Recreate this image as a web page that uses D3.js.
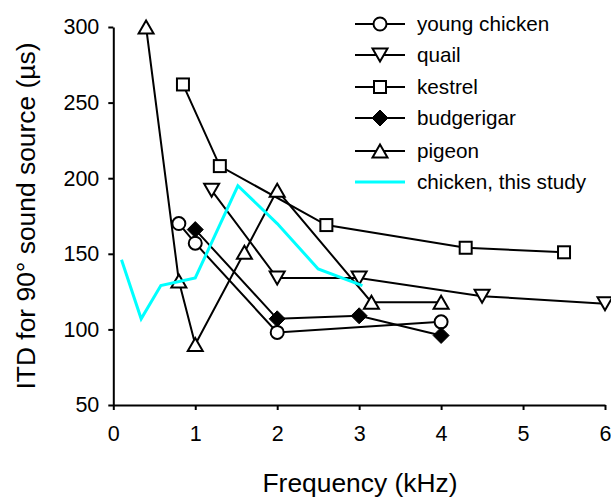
<!DOCTYPE html>
<html>
<head>
<meta charset="utf-8">
<script src="https://cdn.jsdelivr.net/npm/d3@7"></script>
<style>
  html, body { margin: 0; padding: 0; background: #fff; }
  svg { display: block; font-family: Arial, "Liberation Sans", sans-serif; }
</style>
</head>
<body>
<svg id="chart" width="611" height="500"></svg>
<script>
// Interaural time difference (ITD) for a 90° source, by frequency, per species
const youngChickenFreq = [0.8, 1.0, 2.0, 4.0];
const youngChickenITD  = [170, 157, 98, 105];

const quailFreq = [1.2, 2.0, 3.0, 4.5, 6.0];
const quailITD  = [192, 134, 134, 122, 117];

const kestrelFreq = [0.85, 1.3, 2.6, 4.3, 5.5];
const kestrelITD  = [262, 208, 169, 154, 151];

const budgerigarFreq = [1.0, 2.0, 3.0, 4.0];
const budgerigarITD  = [166, 107, 109, 96];

const pigeonFreq = [0.4, 0.8, 1.0, 1.6, 2.0, 3.15, 4.0];
const pigeonITD  = [300, 132, 90, 151, 192, 118, 118];

const thisStudyFreq = [0.1, 0.34, 0.58, 1.0, 1.52, 2.0, 2.5, 3.04];
const thisStudyITD  = [146, 107, 129, 134, 195, 170, 140, 129];

const xTicks = [0, 1, 2, 3, 4, 5, 6];
const yTicks = [50, 100, 150, 200, 250, 300];

const seriesNames = ["young chicken", "quail", "kestrel", "budgerigar", "pigeon", "chicken, this study"];
const seriesMarkers = ["circle", "triangleDown", "square", "diamond", "triangleUp", "none"];

const series = [
  { name: seriesNames[0], marker: seriesMarkers[0], freq: youngChickenFreq, itd: youngChickenITD },
  { name: seriesNames[1], marker: seriesMarkers[1], freq: quailFreq, itd: quailITD },
  { name: seriesNames[2], marker: seriesMarkers[2], freq: kestrelFreq, itd: kestrelITD },
  { name: seriesNames[3], marker: seriesMarkers[3], freq: budgerigarFreq, itd: budgerigarITD },
  { name: seriesNames[4], marker: seriesMarkers[4], freq: pigeonFreq, itd: pigeonITD },
  { name: seriesNames[5], marker: seriesMarkers[5], freq: thisStudyFreq, itd: thisStudyITD }
];

const svg = d3.select("#chart");
const x = d3.scaleLinear().domain([0, 6]).range([113.3, 605]);
const y = d3.scaleLinear().domain([50, 300]).range([405, 27]);

const CYAN = "#00ffff";
const tickFont = 21.5;

// Axes
const xAxis = svg.append("g")
  .attr("transform", `translate(0,${y(50)})`)
  .call(d3.axisBottom(x).tickValues(xTicks).tickFormat(d3.format("d")).tickSize(5).tickSizeOuter(0).tickPadding(16));
const yAxis = svg.append("g")
  .attr("transform", `translate(${x(0)},0)`)
  .call(d3.axisLeft(y).tickValues(yTicks).tickFormat(d3.format("d")).tickSize(5).tickSizeOuter(0).tickPadding(9));
[xAxis, yAxis].forEach(g => {
  g.selectAll("path, line").attr("stroke", "#000").attr("stroke-width", 2);
  g.selectAll("text").attr("fill", "#000").style("font-size", tickFont + "px")
    .style("font-family", "Arial, 'Liberation Sans', sans-serif");
});

// Axis titles
svg.append("text")
  .attr("x", 360).attr("y", 492)
  .attr("text-anchor", "middle")
  .style("font-size", "26.4px")
  .text("Frequency (kHz)");
svg.append("text")
  .attr("transform", `translate(35,${(y(50) + y(300)) / 2}) rotate(-90)`)
  .attr("text-anchor", "middle")
  .style("font-size", "26.4px")
  .text("ITD for 90° sound source (µs)");

// Marker shapes
function drawMarker(g, type, cx, cy) {
  const s = 6.5;
  if (type === "circle") {
    g.append("circle").attr("cx", cx).attr("cy", cy).attr("r", s)
      .attr("fill", "#fff").attr("stroke", "#000").attr("stroke-width", 2);
  } else if (type === "square") {
    g.append("rect").attr("x", cx - 6).attr("y", cy - 6).attr("width", 12).attr("height", 12)
      .attr("fill", "#fff").attr("stroke", "#000").attr("stroke-width", 2);
  } else if (type === "diamond") {
    const r = 8;
    g.append("path").attr("d", `M${cx},${cy - r}L${cx + r},${cy}L${cx},${cy + r}L${cx - r},${cy}Z`)
      .attr("fill", "#000").attr("stroke", "#000").attr("stroke-width", 1);
  } else if (type === "triangleUp") {
    const w = 7.5, h = 6.5;
    g.append("path").attr("d", `M${cx},${cy - h}L${cx + w},${cy + h}L${cx - w},${cy + h}Z`)
      .attr("fill", "#fff").attr("stroke", "#000").attr("stroke-width", 2).attr("stroke-linejoin", "miter");
  } else if (type === "triangleDown") {
    const w = 7.5, h = 6.5;
    g.append("path").attr("d", `M${cx},${cy + h}L${cx + w},${cy - h}L${cx - w},${cy - h}Z`)
      .attr("fill", "#fff").attr("stroke", "#000").attr("stroke-width", 2).attr("stroke-linejoin", "miter");
  }
}

const line = d3.line().x(d => x(d[0])).y(d => y(d[1]));
const plot = svg.append("g");

series.forEach(s => {
  const pts = s.freq.map((f, i) => [f, s.itd[i]]);
  const g = plot.append("g");
  const isCyan = s.marker === "none";
  g.append("path").datum(pts).attr("d", line)
    .attr("fill", "none")
    .attr("stroke", isCyan ? CYAN : "#000")
    .attr("stroke-width", isCyan ? 3 : 2)
    .attr("stroke-linejoin", "miter");
  if (!isCyan) pts.forEach(p => drawMarker(g, s.marker, x(p[0]), y(p[1])));
});

// Legend
const legend = svg.append("g");
const rowY = [24, 55, 87, 118, 151, 182];
series.forEach((s, i) => {
  const ly = rowY[i];
  const isCyan = s.marker === "none";
  legend.append("line").attr("x1", 355).attr("x2", 405).attr("y1", ly).attr("y2", ly)
    .attr("stroke", isCyan ? CYAN : "#000").attr("stroke-width", isCyan ? 3 : 2);
  if (!isCyan) drawMarker(legend, s.marker, 380, ly);
  legend.append("text").attr("x", 417).attr("y", ly).attr("dy", "0.35em")
    .style("font-size", "20.7px").text(s.name);
});
</script>
</body>
</html>
